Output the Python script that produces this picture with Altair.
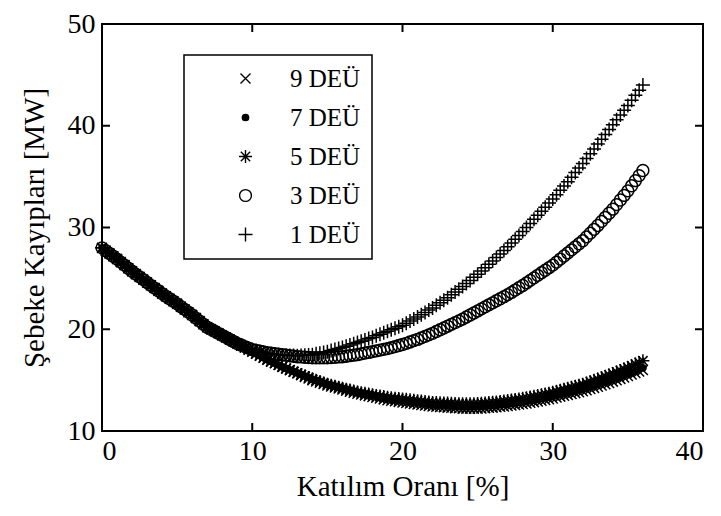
import altair as alt
import pandas as pd

# ---------------- data ----------------
X_START = 0.0
X_STEP = 0.25
N_POINTS = 145
x_values = [round(X_START + i * X_STEP, 2) for i in range(N_POINTS)]

series_names = ["9 DEÜ", "7 DEÜ", "5 DEÜ", "3 DEÜ", "1 DEÜ"]

y_9deu = [
    28.0, 27.72, 27.45, 27.18, 26.9, 26.6, 26.3, 26.0, 25.7, 25.42, 25.15, 24.88,
    24.6, 24.32, 24.05, 23.78, 23.5, 23.25, 23.0, 22.75, 22.5, 22.22, 21.95, 21.68,
    21.4, 21.1, 20.8, 20.5, 20.2, 20.0, 19.8, 19.6, 19.4, 19.2, 19.0, 18.8,
    18.6, 18.4, 18.2, 18.0, 17.8, 17.6, 17.4, 17.2, 17.0, 16.82, 16.65, 16.48,
    16.3, 16.14, 15.98, 15.81, 15.65, 15.49, 15.32, 15.16, 15.0, 14.87, 14.74, 14.61,
    14.48, 14.38, 14.27, 14.17, 14.07, 13.97, 13.86, 13.76, 13.66, 13.58, 13.5, 13.43,
    13.35, 13.27, 13.19, 13.11, 13.03, 12.97, 12.92, 12.86, 12.8, 12.75, 12.7, 12.65,
    12.6, 12.55, 12.5, 12.45, 12.4, 12.38, 12.35, 12.33, 12.3, 12.28, 12.25, 12.23,
    12.2, 12.2, 12.2, 12.2, 12.2, 12.22, 12.25, 12.28, 12.3, 12.34, 12.38, 12.41,
    12.45, 12.5, 12.55, 12.6, 12.65, 12.71, 12.78, 12.84, 12.9, 12.98, 13.05, 13.12,
    13.2, 13.29, 13.38, 13.46, 13.55, 13.64, 13.72, 13.81, 13.9, 14.01, 14.12, 14.24,
    14.35, 14.48, 14.6, 14.72, 14.85, 14.99, 15.12, 15.26, 15.4, 15.55, 15.7, 15.85,
    16.0,
]

y_7deu = [
    28.0, 27.72, 27.45, 27.18, 26.9, 26.6, 26.3, 26.0, 25.7, 25.42, 25.15, 24.88,
    24.6, 24.32, 24.05, 23.78, 23.5, 23.25, 23.0, 22.75, 22.5, 22.22, 21.95, 21.68,
    21.4, 21.1, 20.8, 20.5, 20.2, 20.0, 19.8, 19.6, 19.4, 19.2, 19.0, 18.8,
    18.6, 18.4, 18.2, 18.0, 17.8, 17.6, 17.4, 17.2, 17.0, 16.82, 16.65, 16.48,
    16.3, 16.15, 16.0, 15.85, 15.7, 15.55, 15.4, 15.25, 15.1, 14.98, 14.85, 14.72,
    14.6, 14.5, 14.4, 14.3, 14.2, 14.1, 14.0, 13.9, 13.8, 13.72, 13.65, 13.58,
    13.5, 13.42, 13.35, 13.28, 13.2, 13.15, 13.1, 13.05, 13.0, 12.95, 12.9, 12.85,
    12.8, 12.75, 12.7, 12.65, 12.6, 12.58, 12.55, 12.52, 12.5, 12.48, 12.45, 12.42,
    12.4, 12.4, 12.4, 12.4, 12.4, 12.42, 12.45, 12.48, 12.5, 12.54, 12.58, 12.61,
    12.65, 12.7, 12.75, 12.8, 12.85, 12.91, 12.98, 13.04, 13.1, 13.18, 13.25, 13.32,
    13.4, 13.49, 13.58, 13.66, 13.75, 13.84, 13.92, 14.01, 14.1, 14.21, 14.32, 14.44,
    14.55, 14.68, 14.8, 14.92, 15.05, 15.19, 15.32, 15.46, 15.6, 15.75, 15.9, 16.05,
    16.2,
]

y_5deu = [
    28.0, 27.72, 27.45, 27.18, 26.9, 26.6, 26.3, 26.0, 25.7, 25.42, 25.15, 24.88,
    24.6, 24.32, 24.05, 23.78, 23.5, 23.25, 23.0, 22.75, 22.5, 22.22, 21.95, 21.68,
    21.4, 21.1, 20.8, 20.5, 20.2, 20.0, 19.8, 19.6, 19.4, 19.2, 19.0, 18.8,
    18.6, 18.4, 18.2, 18.0, 17.8, 17.6, 17.4, 17.2, 17.0, 16.82, 16.65, 16.48,
    16.3, 16.15, 16.0, 15.85, 15.7, 15.55, 15.4, 15.25, 15.1, 14.98, 14.85, 14.72,
    14.6, 14.5, 14.4, 14.3, 14.2, 14.11, 14.02, 13.93, 13.84, 13.77, 13.7, 13.64,
    13.57, 13.5, 13.44, 13.38, 13.31, 13.27, 13.23, 13.19, 13.15, 13.11, 13.06, 13.02,
    12.98, 12.94, 12.9, 12.85, 12.81, 12.79, 12.78, 12.76, 12.74, 12.72, 12.7, 12.69,
    12.67, 12.68, 12.69, 12.69, 12.7, 12.73, 12.76, 12.79, 12.82, 12.86, 12.9, 12.95,
    12.99, 13.04, 13.1, 13.15, 13.21, 13.28, 13.34, 13.41, 13.48, 13.56, 13.64, 13.72,
    13.8, 13.9, 14.0, 14.1, 14.2, 14.3, 14.4, 14.5, 14.6, 14.72, 14.85, 14.98,
    15.1, 15.24, 15.38, 15.51, 15.65, 15.8, 15.95, 16.1, 16.25, 16.41, 16.58, 16.74,
    16.9,
]

y_3deu = [
    28.0, 27.72, 27.45, 27.18, 26.9, 26.6, 26.3, 26.0, 25.7, 25.42, 25.15, 24.88,
    24.6, 24.32, 24.05, 23.78, 23.5, 23.25, 23.0, 22.75, 22.5, 22.22, 21.95, 21.68,
    21.4, 21.1, 20.8, 20.5, 20.2, 20.0, 19.8, 19.6, 19.4, 19.2, 19.0, 18.8,
    18.6, 18.45, 18.3, 18.15, 18.0, 17.92, 17.85, 17.78, 17.7, 17.65, 17.6, 17.55,
    17.5, 17.45, 17.4, 17.35, 17.3, 17.28, 17.25, 17.22, 17.2, 17.2, 17.2, 17.2,
    17.2, 17.22, 17.25, 17.28, 17.3, 17.35, 17.4, 17.45, 17.5, 17.58, 17.65, 17.72,
    17.8, 17.88, 17.95, 18.02, 18.1, 18.2, 18.3, 18.4, 18.5, 18.62, 18.75, 18.88,
    19.0, 19.15, 19.3, 19.45, 19.6, 19.78, 19.95, 20.12, 20.3, 20.48, 20.65, 20.82,
    21.0, 21.2, 21.4, 21.6, 21.8, 22.0, 22.2, 22.4, 22.6, 22.8, 23.0, 23.2,
    23.4, 23.62, 23.85, 24.08, 24.3, 24.55, 24.8, 25.05, 25.3, 25.55, 25.8, 26.05,
    26.3, 26.6, 26.9, 27.2, 27.5, 27.8, 28.1, 28.4, 28.7, 29.08, 29.45, 29.82,
    30.2, 30.6, 31.0, 31.4, 31.8, 32.25, 32.7, 33.15, 33.6, 34.1, 34.6, 35.1,
    35.6,
]

y_1deu = [
    28.0, 27.72, 27.45, 27.18, 26.9, 26.6, 26.3, 26.0, 25.7, 25.42, 25.15, 24.88,
    24.6, 24.32, 24.05, 23.78, 23.5, 23.25, 23.0, 22.75, 22.5, 22.22, 21.95, 21.68,
    21.4, 21.1, 20.8, 20.5, 20.2, 20.0, 19.8, 19.6, 19.4, 19.2, 19.0, 18.8,
    18.6, 18.45, 18.3, 18.15, 18.0, 17.91, 17.82, 17.74, 17.65, 17.6, 17.55, 17.5,
    17.45, 17.44, 17.42, 17.41, 17.4, 17.42, 17.45, 17.48, 17.5, 17.58, 17.65, 17.72,
    17.8, 17.9, 18.0, 18.1, 18.2, 18.32, 18.45, 18.58, 18.7, 18.82, 18.95, 19.08,
    19.2, 19.35, 19.5, 19.65, 19.8, 19.95, 20.1, 20.25, 20.4, 20.6, 20.8, 21.0,
    21.2, 21.42, 21.65, 21.88, 22.1, 22.35, 22.6, 22.85, 23.1, 23.38, 23.65, 23.92,
    24.2, 24.5, 24.8, 25.1, 25.4, 25.72, 26.05, 26.38, 26.7, 27.05, 27.4, 27.75,
    28.1, 28.48, 28.85, 29.22, 29.6, 30.0, 30.4, 30.8, 31.2, 31.6, 32.0, 32.4,
    32.8, 33.22, 33.65, 34.08, 34.5, 34.95, 35.4, 35.85, 36.3, 36.78, 37.25, 37.72,
    38.2, 38.68, 39.15, 39.62, 40.1, 40.58, 41.05, 41.52, 42.0, 42.5, 43.0, 43.5,
    44.0,
]

x_ticks = [0, 10, 20, 30, 40]
y_ticks = [10, 20, 30, 40, 50]
x_inner_ticks = [10, 20, 30]
y_inner_ticks = [20, 30, 40]
x_title = "Katılım Oranı [%]"
y_title = "Şebeke Kayıpları [MW]"

# ---------------- styles ----------------
PLOT_W, PLOT_H = 601, 407
TICK_LEN = 8
FONT = "Liberation Serif"

PLUS_PATH = "M-1,0L1,0M0,-1L0,1"
X_PATH = "M-1,-1L1,1M-1,1L1,-1"
STAR_PATH = "M-1,0L1,0M0,-1L0,1M-0.72,-0.72L0.72,0.72M-0.72,0.72L0.72,-0.72"
MARKER_SHAPES = [X_PATH, "circle", STAR_PATH, "circle", PLUS_PATH]
MARKER_FILLS = ["transparent", "black", "transparent", "transparent", "transparent"]
MARKER_STROKES = ["black"] * 5
MARKER_SIZES = [100, 40, 169, 140, 196]

rows = []
for name, vals in zip(series_names, [y_9deu, y_7deu, y_5deu, y_3deu, y_1deu]):
    for xv, yv in zip(x_values, vals):
        rows.append({"x": xv, "y": yv, "series": name})
df = pd.DataFrame(rows)

xscale = alt.Scale(domain=[0, 40], nice=False, zero=False)
yscale = alt.Scale(domain=[10, 50], nice=False, zero=False)
xaxis = alt.Axis(values=x_ticks, labelPadding=6, titlePadding=7)
yaxis = alt.Axis(values=y_ticks, labelPadding=7, titlePadding=18)

legend = alt.Legend(
    orient="none", legendX=82, legendY=31, padding=11,
    strokeColor="black", fillColor="white",
    labelFont=FONT, labelFontSize=25, labelColor="black",
    rowPadding=13, symbolOffset=38, labelOffset=32,
    symbolStrokeWidth=1.4,
)

points = alt.Chart(df).mark_point(
    filled=False, strokeWidth=1.5, opacity=1
).encode(
    x=alt.X("x:Q", scale=xscale, axis=xaxis, title=x_title),
    y=alt.Y("y:Q", scale=yscale, axis=yaxis, title=y_title),
    shape=alt.Shape("series:N", title=None, legend=legend,
                    scale=alt.Scale(type="ordinal", domain=series_names, range=MARKER_SHAPES)),
    fill=alt.Fill("series:N", title=None, legend=legend,
                  scale=alt.Scale(type="ordinal", domain=series_names, range=MARKER_FILLS)),
    stroke=alt.Stroke("series:N", title=None, legend=legend,
                      scale=alt.Scale(type="ordinal", domain=series_names, range=MARKER_STROKES)),
    size=alt.Size("series:N", title=None, legend=legend,
                  scale=alt.Scale(type="ordinal", domain=series_names, range=MARKER_SIZES)),
)

xt = pd.DataFrame({"v": x_inner_ticks})
yt = pd.DataFrame({"v": y_inner_ticks})
rule = dict(color="black", strokeWidth=2)

bottom = alt.Chart(xt).mark_rule(**rule).encode(
    x=alt.X("v:Q", scale=xscale, axis=xaxis, title=x_title),
    y=alt.value(PLOT_H), y2=alt.value(PLOT_H - TICK_LEN))
top = alt.Chart(xt).mark_rule(**rule).encode(
    x=alt.X("v:Q", scale=xscale, axis=xaxis, title=x_title),
    y=alt.value(0), y2=alt.value(TICK_LEN))
left = alt.Chart(yt).mark_rule(**rule).encode(
    y=alt.Y("v:Q", scale=yscale, axis=yaxis, title=y_title),
    x=alt.value(0), x2=alt.value(TICK_LEN))
right = alt.Chart(yt).mark_rule(**rule).encode(
    y=alt.Y("v:Q", scale=yscale, axis=yaxis, title=y_title),
    x=alt.value(PLOT_W), x2=alt.value(PLOT_W - TICK_LEN))

chart = alt.layer(points, bottom, top, left, right).properties(
    width=PLOT_W, height=PLOT_H,
    autosize=alt.AutoSizeParams(type="none"),
    padding={"left": 94, "top": 16, "right": 8, "bottom": 77},
).configure_view(
    stroke="black", strokeWidth=2
).configure_axis(
    domain=False, ticks=False, grid=False,
    labelFont=FONT, labelFontSize=28, labelColor="black",
    titleFont=FONT, titleFontSize=29, titleFontWeight="normal", titleColor="black",
).configure_legend(
    strokeWidth=1.5
)

chart.save("out.html", embed_options={"renderer": "svg", "actions": False})
